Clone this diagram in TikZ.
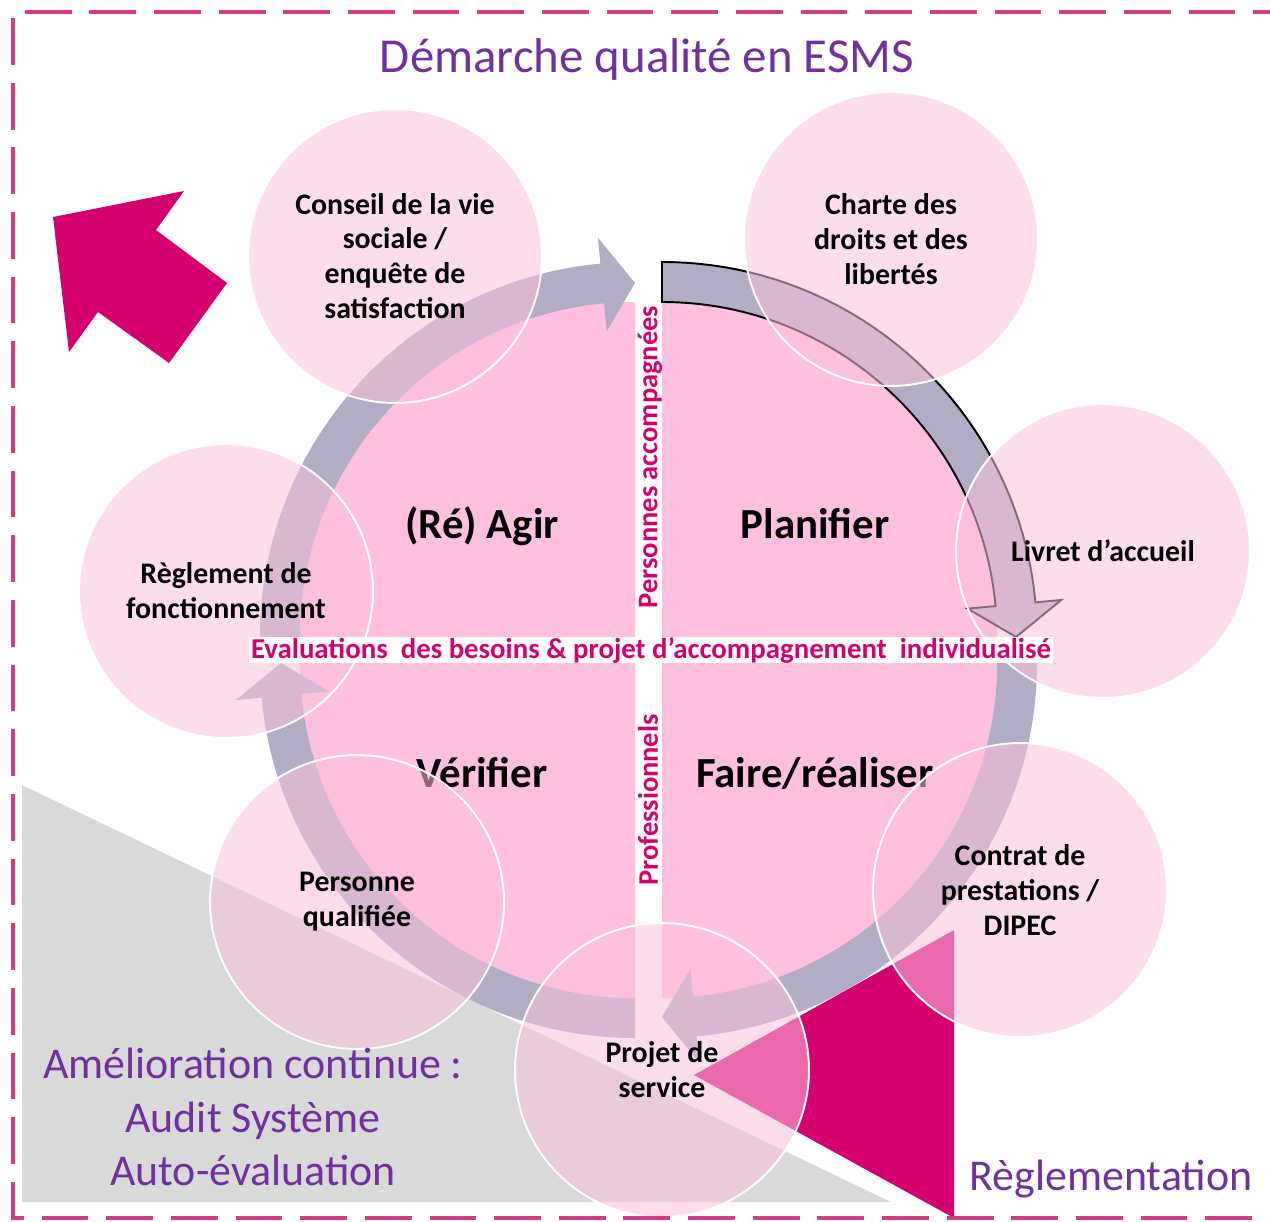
\documentclass[tikz,border=0pt]{standalone}
\usepackage{fontspec}
\setmainfont{Carlito}
\definecolor{framepink}{RGB}{213,60,135}
\definecolor{esmsmagenta}{RGB}{212,0,112}
\definecolor{quadpink}{RGB}{255,192,224}
\definecolor{satpink}{RGB}{251,193,220}
\definecolor{ringgray}{RGB}{178,172,196}
\definecolor{esmspurple}{RGB}{112,48,160}
\definecolor{greyzone}{RGB}{217,217,217}

% one quarter of the cycle: #2 centre, #3 start angle (y points down)
\newcommand\ringarrow[3][]{%
  \pgfmathsetmacro\ra{#3+84.7}\pgfmathsetmacro\rb{#3+90}%
  \fill[ring,#1,shift={#2}] (#3:375) arc[start angle=#3,end angle=\ra,radius=375]
    -- (\ra:401) -- (\rb:354) -- (\ra:307) -- (\ra:335)
    arc[start angle=\ra,end angle=#3,radius=335] -- cycle;}

\begin{document}
\begin{tikzpicture}[
        x=0.02cm, y=-0.02cm,
        quad/.style={fill=quadpink},
        ring/.style={fill=ringgray},
        sat/.style={circle, minimum size=5.88cm, inner sep=0pt,
            fill=satpink, fill opacity=.55, text opacity=1,
            draw=white, line width=1.1pt, align=center,
            font=\bfseries\fontsize{17}{19.8}\selectfont},
        phase/.style={anchor=base, font=\bfseries\fontsize{24.4}{29}\selectfont},
        side/.style={rotate=90, inner sep=0pt, text=esmsmagenta,
            font=\bfseries\fontsize{16.2}{19}\selectfont},
        big/.style={text=esmspurple, align=center,
            font=\fontsize{25}{30.3}\selectfont},
        frame/.style={draw=framepink, line width=2.3pt,
            dash pattern=on 26.6pt off 10.2pt},
    ]

    \useasboundingbox (0,0) rectangle (1270,1221);
    \clip (0,0) rectangle (1270,1221);

    % background zones
    \fill[greyzone] (22,785) -- (891,1202) -- (22,1202) -- cycle;
    \fill[esmsmagenta] (954,930) -- (694,1075) -- (954,1218) -- cycle;
    \fill[esmsmagenta] (53,217) -- (184,191) -- (156,230) -- (227,283)
        -- (169,363) -- (98,312) -- (69,352) -- cycle;

    % the four quarters
    \foreach \cx/\cy/\a in {635/637/180, 662/637/270, 662/663/0, 635/663/90}
        \fill[quad,shift={(\cx,\cy)}] (0,0) -- (\a:335)
            arc[start angle=\a,delta angle=90,radius=335] -- cycle;

    \node[phase] (agir) at (482,538) {(Ré) Agir};
    \node[phase] (planifier) at (815,538) {Planifier};
    \node[phase] (verifier) at (482,787) {Vérifier};
    \node[phase] (faire) at (815,787) {Faire/réaliser};

    \ringarrow{(635,637)}{180}
    \ringarrow[draw=black,line width=1.1pt]{(662,637)}{270}
    \ringarrow{(662,663)}{0}
    \ringarrow{(635,663)}{90}

    % documents around the cycle
    \node[sat] (conseil) at (395,256) {Conseil de la vie\\sociale /\\enquête de\\satisfaction};
    \node[sat] (charte) at (891,239) {Charte des\\droits et des\\libertés};
    \node[sat] (livret) at (1103,551) {Livret d’accueil};
    \node[sat] (reglement) at (226,591) {Règlement de\\fonctionnement};
    \node[sat] (personne) at (357,902) {Personne\\qualifiée};
    \node[sat] (contrat) at (1020,890) {Contrat de\\prestations /\\DIPEC};
    \node[sat] (projet) at (662,1070) {Projet de\\service};

    \node[fill=white, inner sep=0pt, minimum width=16.1cm, minimum height=0.52cm,
        text=esmsmagenta, font=\bfseries\fontsize{16.4}{18}\selectfont]
        (besoins) at (651,650)
        {Evaluations~ des besoins \& projet d’accompagnement~ individualisé};
    \node[side] (personnes) at (650,457) {Personnes accompagnées};
    \node[side] (pros) at (648,800) {Professionnels};

    \node[text=esmspurple, anchor=base, font=\fontsize{27.8}{32}\selectfont]
        (titre) at (647,72) {Démarche qualité en ESMS};
    \node[big] (amelioration) at (253,1117)
        {Amélioration continue :\\Audit Système\\Auto-évaluation};
    \node[big] (reglementation) at (1111,1179) {Règlementation};

    \draw[frame] (1300,12) -- (13,12) -- (13,1218) -- (1300,1218);

\end{tikzpicture}
\end{document}
